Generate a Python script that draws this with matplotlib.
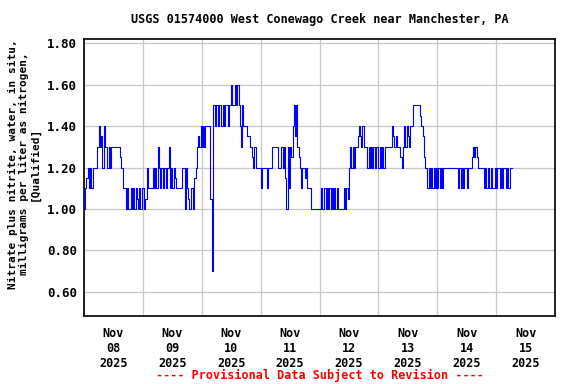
import pandas as pd
import matplotlib
matplotlib.use('Agg')
import matplotlib.pyplot as plt
import matplotlib.dates as mdates

# 30-minute nitrate values, one list per day (starting 00:00)
nov08 = [1.00, 1.10, 1.15, 1.20, 1.10, 1.20, 1.10, 1.20, 1.20, 1.20, 1.20, 1.30,
         1.40, 1.30, 1.35, 1.20, 1.40, 1.30, 1.30, 1.20, 1.30, 1.20, 1.30, 1.30,
         1.30, 1.30, 1.30, 1.30, 1.30, 1.25, 1.20, 1.20, 1.10, 1.10, 1.00, 1.10,
         1.00, 1.00, 1.10, 1.00, 1.10, 1.00, 1.10, 1.05, 1.00, 1.10, 1.00, 1.10]
nov09 = [1.10, 1.00, 1.05, 1.20, 1.10, 1.10, 1.10, 1.10, 1.20, 1.10, 1.20, 1.10,
         1.30, 1.20, 1.10, 1.20, 1.10, 1.20, 1.20, 1.10, 1.20, 1.30, 1.10, 1.20,
         1.10, 1.20, 1.15, 1.10, 1.10, 1.10, 1.10, 1.10, 1.20, 1.20, 1.00, 1.20,
         1.10, 1.05, 1.00, 1.10, 1.10, 1.00, 1.15, 1.20, 1.30, 1.35, 1.30, 1.40]
nov10 = [1.30, 1.40, 1.30, 1.40, 1.40, 1.40, 1.40, 1.05, 0.70, 1.50, 1.50, 1.40,
         1.50, 1.40, 1.50, 1.50, 1.40, 1.50, 1.40, 1.50, 1.50, 1.40, 1.50, 1.50,
         1.60, 1.50, 1.50, 1.60, 1.50, 1.60, 1.50, 1.40, 1.30, 1.50, 1.40, 1.40,
         1.40, 1.35, 1.35, 1.30, 1.30, 1.25, 1.20, 1.30, 1.20, 1.20, 1.20, 1.20]
nov11 = [1.10, 1.20, 1.20, 1.20, 1.20, 1.10, 1.20, 1.20, 1.20, 1.30, 1.30, 1.30,
         1.30, 1.30, 1.20, 1.20, 1.20, 1.30, 1.20, 1.30, 1.15, 1.00, 1.30, 1.10,
         1.30, 1.25, 1.40, 1.50, 1.35, 1.50, 1.30, 1.25, 1.20, 1.10, 1.20, 1.20,
         1.15, 1.20, 1.10, 1.10, 1.10, 1.00, 1.00, 1.00, 1.00, 1.00, 1.00, 1.00]
nov12 = [1.00, 1.10, 1.00, 1.00, 1.10, 1.00, 1.10, 1.00, 1.10, 1.00, 1.10, 1.00,
         1.10, 1.00, 1.10, 1.00, 1.00, 1.00, 1.00, 1.00, 1.10, 1.00, 1.10, 1.05,
         1.20, 1.30, 1.20, 1.30, 1.20, 1.30, 1.30, 1.35, 1.40, 1.35, 1.30, 1.40,
         1.30, 1.30, 1.30, 1.20, 1.30, 1.20, 1.30, 1.20, 1.30, 1.20, 1.30, 1.30]
nov13 = [1.20, 1.30, 1.20, 1.30, 1.20, 1.30, 1.30, 1.30, 1.30, 1.30, 1.30, 1.40,
         1.35, 1.30, 1.35, 1.30, 1.30, 1.30, 1.25, 1.20, 1.30, 1.40, 1.30, 1.40,
         1.35, 1.30, 1.40, 1.40, 1.50, 1.50, 1.50, 1.50, 1.50, 1.50, 1.45, 1.40,
         1.35, 1.25, 1.20, 1.20, 1.10, 1.20, 1.10, 1.20, 1.10, 1.20, 1.10, 1.20]
nov14 = [1.10, 1.20, 1.10, 1.20, 1.10, 1.20, 1.20, 1.20, 1.20, 1.20, 1.20, 1.20,
         1.20, 1.20, 1.20, 1.20, 1.20, 1.10, 1.20, 1.10, 1.20, 1.10, 1.20, 1.20,
         1.10, 1.20, 1.20, 1.20, 1.25, 1.30, 1.25, 1.30, 1.25, 1.20, 1.20, 1.20,
         1.20, 1.20, 1.10, 1.20, 1.10, 1.20, 1.10, 1.10, 1.20, 1.10, 1.10, 1.20]
nov15 = [1.10, 1.20, 1.20, 1.10, 1.20, 1.10, 1.20, 1.20, 1.10, 1.20, 1.10, 1.20,
         1.20, 1.20]

values = nov08 + nov09 + nov10 + nov11 + nov12 + nov13 + nov14 + nov15
times = pd.date_range('2025-11-08 00:00', periods=len(values), freq='30min')

y_ticks = [0.60, 0.80, 1.00, 1.20, 1.40, 1.60, 1.80]
title = 'USGS 01574000 West Conewago Creek near Manchester, PA'
ylabel = 'Nitrate plus nitrite, water, in situ,\nmilligrams per liter as nitrogen,\n[Qualified]'

mono = 'DejaVu Sans Mono'
fig = plt.figure(figsize=(5.76, 3.84), dpi=100)
ax = fig.add_axes([84/576, 1-316/384, (555-84)/576, (316-39)/384])

ax.plot(times, values, color='#0000FF', linewidth=0.8, drawstyle='steps-post', zorder=3)

ax.set_xlim(pd.Timestamp('2025-11-08'), pd.Timestamp('2025-11-16'))
ax.set_ylim(0.484, 1.82)

ax.set_yticks(y_ticks)
ax.set_yticklabels([f'{v:.2f}' for v in y_ticks], fontfamily=mono, fontweight='bold', fontsize=9)

ax.xaxis.set_major_locator(mdates.DayLocator())
ax.xaxis.set_major_formatter(plt.NullFormatter())
ax.xaxis.set_minor_locator(mdates.HourLocator(byhour=[12]))
ax.xaxis.set_minor_formatter(mdates.DateFormatter('%b\n%d\n%Y'))
for lab in ax.xaxis.get_minorticklabels():
    lab.set_fontfamily(mono)
    lab.set_fontweight('bold')
    lab.set_fontsize(8.5)
ax.tick_params(axis='x', which='both', length=0, pad=8)
ax.tick_params(axis='y', length=0, pad=5)

ax.grid(True, which='major', color='#C8C8C8', linewidth=0.9)
ax.set_axisbelow(True)
for s in ax.spines.values():
    s.set_linewidth(1.2)

fig.text(319.5/576, 1-19/384, title, ha='center', va='center',
         fontfamily=mono, fontweight='bold', fontsize=8.5)
fig.text(24/576, 1-164/384, ylabel, ha='center', va='center', rotation=90,
         multialignment='center', fontfamily=mono, fontweight='bold', fontsize=8,
         linespacing=1.1)
fig.text(319.5/576, 1-375/384, '---- Provisional Data Subject to Revision ----',
         ha='center', va='center', color='red', fontfamily=mono, fontweight='bold',
         fontsize=8.5)

fig.savefig('out.png', dpi=100)
